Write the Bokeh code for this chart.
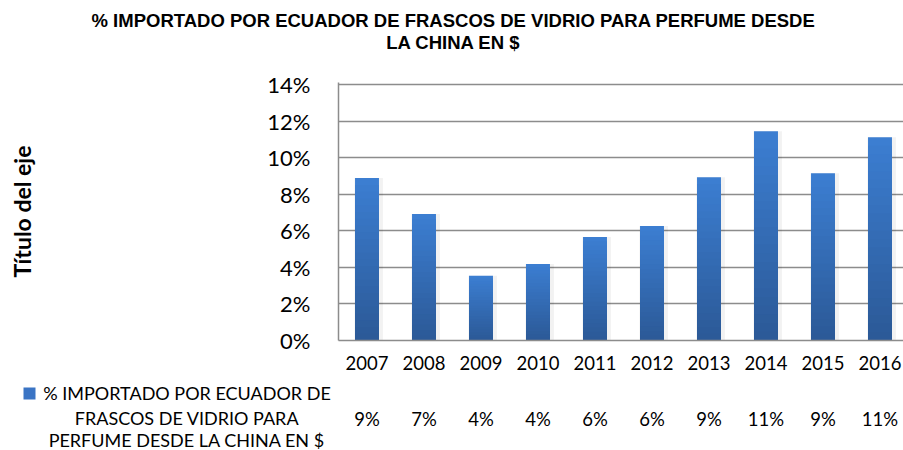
import numpy as np
from bokeh.plotting import figure
from bokeh.layouts import column, row
from bokeh.models import (Range1d, FixedTicker, NumeralTickFormatter, ColumnDataSource)
from bokeh.core.properties import value
from bokeh.embed import file_html
from bokeh.resources import INLINE

# ---- data ----
years = [2007, 2008, 2009, 2010, 2011, 2012, 2013, 2014, 2015, 2016]
values = [0.0888, 0.0692, 0.0354, 0.0419, 0.0566, 0.0626, 0.0893, 0.1144, 0.0915, 0.1111]
y_ticks = [0.0, 0.02, 0.04, 0.06, 0.08, 0.10, 0.12, 0.14]
title_lines = ["% IMPORTADO POR ECUADOR DE FRASCOS DE VIDRIO PARA PERFUME DESDE",
               "LA CHINA EN $"]
legend_lines = ["% IMPORTADO POR ECUADOR DE", "FRASCOS DE VIDRIO PARA",
                "PERFUME DESDE LA CHINA EN $"]
y_title = "Título del eje"

# ---- layout (page pixels) ----
W = 903
TOP_H = 70          # title strip      (0 .. 70)
MID_H = 302         # chart strip      (70 .. 372)
BOT_H = 78          # data-table strip (372 .. 450)
FL = 338            # frame left
FT0 = 84            # 14% gridline
FB = 341            # 0% line
SPACING = 57        # px per category
YMAX = 0.14
PX_PER_UNIT = (FB - FT0) / YMAX
Y_END = YMAX + 2 / PX_PER_UNIT
FT = FB - Y_END * PX_PER_UNIT
x0 = years[0] - 0.5
x_end = x0 + (W - FL) / SPACING

FONT = "Lato"
GRID = "#8c8c8c"

def strip(w, h, x_range, y_top, y_bottom):
    f = figure(width=w, height=h, title=None, x_range=x_range,
               y_range=Range1d(y_bottom, y_top), x_axis_type=None, y_axis_type=None,
               output_backend="svg", toolbar_location=None, min_border=0)
    f.outline_line_color = None
    f.xgrid.grid_line_color = None
    f.ygrid.grid_line_color = None
    return f

# ---- title strip ----
p0 = strip(W, TOP_H, Range1d(0, W), 0, TOP_H)
tsrc = ColumnDataSource(dict(x=[453] * 2, y=[20, 42], text=title_lines))
p0.text(x="x", y="y", text="text", source=tsrc, text_align="center",
        text_baseline="middle", text_font=value("Liberation Sans"),
        text_font_style="bold", text_font_size="18.5px", text_color="black")

# ---- chart strip ----
p = figure(width=W, height=MID_H, title=None,
           x_range=Range1d(x0, x_end), y_range=Range1d(0, Y_END),
           output_backend="svg", toolbar_location=None,
           min_border_left=FL, min_border_right=0,
           min_border_top=int(round(FT)) - TOP_H, min_border_bottom=TOP_H + MID_H - FB)
p.outline_line_color = None

p.xgrid.grid_line_color = None
p.ygrid.grid_line_color = GRID
p.ygrid.grid_line_width = 1.5
p.ygrid.ticker = FixedTicker(ticks=y_ticks)

p.xaxis.ticker = FixedTicker(ticks=years)
p.xaxis.major_label_overrides = {y: str(y) for y in years}
p.xaxis.major_tick_line_color = None
p.xaxis.minor_tick_line_color = None
p.xaxis.axis_line_color = GRID
p.xaxis.axis_line_width = 1.5
p.xaxis.major_label_text_font = FONT
p.xaxis.major_label_text_font_size = "18.5px"
p.xaxis.major_label_text_color = "black"
p.xaxis.major_label_standoff = 9

p.yaxis.ticker = FixedTicker(ticks=y_ticks)
p.yaxis.formatter = NumeralTickFormatter(format="0%")
p.yaxis.major_tick_line_color = None
p.yaxis.minor_tick_line_color = None
p.yaxis.axis_line_color = GRID
p.yaxis.axis_line_width = 1.5
p.yaxis.major_label_text_font = FONT
p.yaxis.major_label_text_font_size = "22px"
p.yaxis.major_label_text_color = "black"
p.yaxis.major_label_standoff = 22
p.yaxis.axis_label = y_title
p.yaxis.axis_label_text_font = FONT
p.yaxis.axis_label_text_font_style = "bold"
p.yaxis.axis_label_text_font_size = "23px"
p.yaxis.axis_label_text_color = "black"
p.yaxis.axis_label_standoff = 228

# soft shadow
p.vbar(x=[y + 0.03 for y in years], top=values, bottom=0, width=0.50,
       fill_color="black", fill_alpha=0.05, line_color=None)

# gradient bars (stacked layers, darker toward the bottom)
N = 24
light = np.array([60, 126, 209])
dark = np.array([44, 90, 152])
xs, tops, cols = [], [], []
for k in range(N):
    t = k / (N - 1)
    c = (light * (1 - t) + dark * t).astype(int)
    col = "#%02x%02x%02x" % tuple(c)
    for yr, v in zip(years, values):
        xs.append(yr)
        tops.append(v * (N - k) / N)
        cols.append(col)
src = ColumnDataSource(dict(x=xs, top=tops, color=cols))
p.vbar(x="x", top="top", bottom=0, width=0.42, fill_color="color",
       line_color=None, source=src)

# ---- data-table strip: legend block (left) + values (right) ----
Y0 = TOP_H + MID_H
p_leg = strip(FL, BOT_H, Range1d(0, FL), Y0, Y0 + BOT_H)
p_leg.quad(left=[23], right=[35], top=[387], bottom=[399],
           fill_color="#3a74c4", line_color=None)
lsrc = ColumnDataSource(dict(x=[186.5] * 3, y=[392, 417, 439], text=legend_lines))
p_leg.text(x="x", y="y", text="text", source=lsrc, text_align="center",
           text_baseline="middle", text_font=value(FONT), text_font_size="18px",
           text_color="black")

p2 = strip(W - FL, BOT_H, Range1d(x0, x_end), Y0, Y0 + BOT_H)
vsrc = ColumnDataSource(dict(x=years, y=[418] * len(years),
                             text=["%d%%" % round(v * 100) for v in values]))
p2.text(x="x", y="y", text="text", source=vsrc, text_align="center",
        text_baseline="middle", text_font=value(FONT), text_font_size="18.5px",
        text_color="black")

layout = column(row(p0, spacing=0), p, row(p_leg, p2, spacing=0), spacing=0)
open("out.html", "w").write(file_html(layout, INLINE))
